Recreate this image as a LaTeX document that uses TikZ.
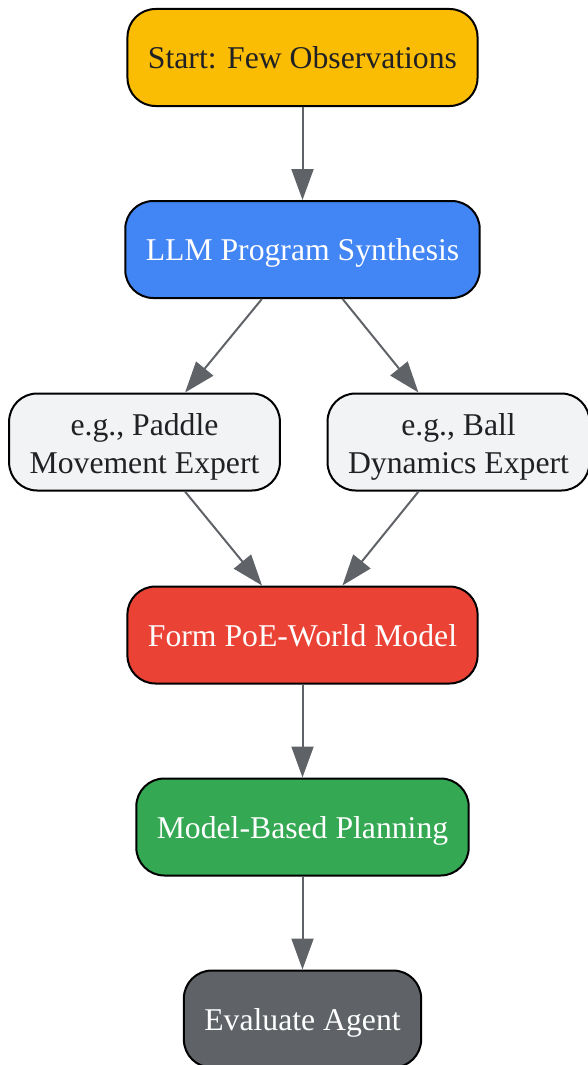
\documentclass[tikz,border=0pt]{standalone}
\usepackage{fontspec}
\setmainfont{Liberation Serif}
\usetikzlibrary{arrows.meta}

\definecolor{gyellow}{HTML}{FBBC04}
\definecolor{gblue}{HTML}{4285F4}
\definecolor{glight}{HTML}{F1F3F4}
\definecolor{gred}{HTML}{EA4335}
\definecolor{ggreen}{HTML}{34A853}
\definecolor{ggray}{HTML}{5F6368}
\definecolor{gtext}{HTML}{202124}

\newcommand{\expertstrut}{\rule{0pt}{31pt}}

\begin{document}
\begin{tikzpicture}[x=1pt,y=-1pt,
	box/.style={draw=black, line width=2pt, rounded corners=28pt,
		minimum height=97pt, inner xsep=20.5pt, align=center,
		font=\fontsize{31.7}{38}\selectfont},
	stepbox/.style={box, text depth=0pt},
	expertbox/.style={box, fill=glight, text=gtext},
	flow/.style={draw=ggray, line width=2pt, -{Triangle[length=31pt,width=22pt]}}]

		\useasboundingbox (0,0) rectangle (588,1065);

		% main column
		\node[stepbox, fill=gyellow, text=gtext] (start) at (302.5,57.5) {Start: Few Observations};
		\node[stepbox, fill=gblue, text=white] (synth) at (302.5,249.5) {LLM Program Synthesis};

		% experts side by side
		\node[expertbox] (paddle) at (144.5,442) {\expertstrut e.g., Paddle\\Movement Expert};
		\node[expertbox] (ball) at (458.5,442) {\expertstrut e.g., Ball\\Dynamics Expert};

		\node[stepbox, fill=gred, text=white] (poe) at (302.5,635) {Form PoE-World Model};
		\node[stepbox, fill=ggreen, text=white] (plan) at (302.5,827) {Model-Based Planning};
		\node[stepbox, fill=ggray, text=white] (eval) at (302.5,1019) {Evaluate Agent};

		\draw[flow] (start) -- (synth);
		\draw[flow] (synth) -- (paddle);
		\draw[flow] (synth) -- (ball);
		\draw[flow] (paddle) -- (poe);
		\draw[flow] (ball) -- (poe);
		\draw[flow] (poe) -- (plan);
		\draw[flow] (plan) -- (eval);
	\end{tikzpicture}
\end{document}
